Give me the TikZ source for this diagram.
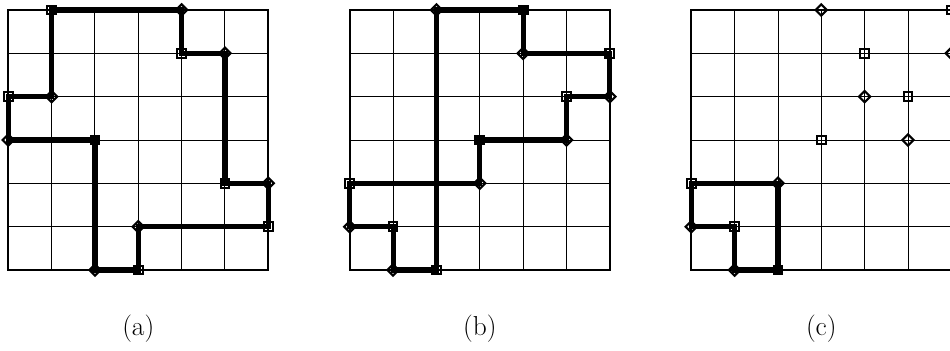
\documentclass[tikz,border=0pt]{standalone}
\usepackage{tikz}
\usetikzlibrary{shapes.geometric,backgrounds}

\begin{document}
\begin{tikzpicture}[
  sq/.style={draw,rectangle,minimum size=0.2cm,inner sep=0pt,line width=1.4pt},
  dm/.style={draw,diamond,minimum size=0.28cm,inner sep=0pt,line width=1.4pt},
  route/.style={line width=3.4pt},
  cell/.style={line width=0.6pt},
  frame/.style={line width=1.3pt},
  tag/.style={font=\fontsize{18}{20}\selectfont}]
\useasboundingbox (-0.19,-1.85) rectangle (21.73,6.23);
% Lattice (a)
\begin{scope}
\draw[cell] (0,0) grid (6,6);
\draw[frame] (0,0) rectangle (6,6);
\node[dm] (a1) at (2,0) {};
\node[sq] (a2) at (3,0) {};
\node[dm] (a3) at (3,1) {};
\node[sq] (a4) at (6,1) {};
\node[dm] (a5) at (6,2) {};
\node[sq] (a6) at (5,2) {};
\node[dm] (a7) at (5,5) {};
\node[sq] (a8) at (4,5) {};
\node[dm] (a9) at (4,6) {};
\node[sq] (a10) at (1,6) {};
\node[dm] (a11) at (1,4) {};
\node[sq] (a12) at (0,4) {};
\node[dm] (a13) at (0,3) {};
\node[sq] (a14) at (2,3) {};
\begin{pgfonlayer}{background}
\draw[route] (a1.center) -- (a2.center) -- (a3.center) -- (a4.center) -- (a5.center)
  -- (a6.center) -- (a7.center) -- (a8.center) -- (a9.center) -- (a10.center)
  -- (a11.center) -- (a12.center) -- (a13.center) -- (a14.center) -- cycle;
\end{pgfonlayer}
\node[tag] (la) at (3,-1.36) {(a)};
\end{scope}
% Lattice (b)
\begin{scope}[xshift=7.88cm]
\draw[cell] (0,0) grid (6,6);
\draw[frame] (0,0) rectangle (6,6);
\node[dm] (b1) at (2,6) {};
\node[sq] (b2) at (4,6) {};
\node[dm] (b3) at (4,5) {};
\node[sq] (b4) at (6,5) {};
\node[dm] (b5) at (6,4) {};
\node[sq] (b6) at (5,4) {};
\node[dm] (b7) at (5,3) {};
\node[sq] (b8) at (3,3) {};
\node[dm] (b9) at (3,2) {};
\node[sq] (b10) at (0,2) {};
\node[dm] (b11) at (0,1) {};
\node[sq] (b12) at (1,1) {};
\node[dm] (b13) at (1,0) {};
\node[sq] (b14) at (2,0) {};
\begin{pgfonlayer}{background}
\draw[route] (b1.center) -- (b2.center) -- (b3.center) -- (b4.center) -- (b5.center)
  -- (b6.center) -- (b7.center) -- (b8.center) -- (b9.center) -- (b10.center)
  -- (b11.center) -- (b12.center) -- (b13.center) -- (b14.center) -- cycle;
\end{pgfonlayer}
\node[tag] (lb) at (3,-1.36) {(b)};
\end{scope}
% Lattice (c)
\begin{scope}[xshift=15.76cm]
\draw[cell] (0,0) grid (6,6);
\draw[frame] (0,0) rectangle (6,6);
\node[sq] (c1) at (0,2) {};
\node[dm] (c2) at (2,2) {};
\node[sq] (c3) at (2,0) {};
\node[dm] (c4) at (1,0) {};
\node[sq] (c5) at (1,1) {};
\node[dm] (c6) at (0,1) {};
% loose ends
\node[dm] (c7) at (3,6) {};
\node[sq] (c8) at (6,6) {};
\node[sq] (c9) at (4,5) {};
\node[dm] (c10) at (6,5) {};
\node[dm] (c11) at (4,4) {};
\node[sq] (c12) at (5,4) {};
\node[sq] (c13) at (3,3) {};
\node[dm] (c14) at (5,3) {};
\begin{pgfonlayer}{background}
\draw[route] (c1.center) -- (c2.center) -- (c3.center) -- (c4.center) -- (c5.center)
  -- (c6.center) -- cycle;
\end{pgfonlayer}
\node[tag] (lc) at (3,-1.36) {(c)};
\end{scope}
\end{tikzpicture}
\end{document}
